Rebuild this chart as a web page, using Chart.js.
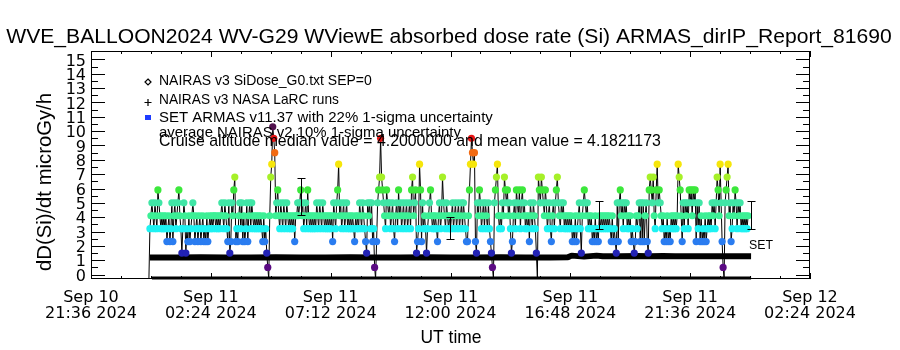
<!DOCTYPE html>
<html>
<head>
<meta charset="utf-8">
<title>WVE_BALLOON2024 WV-G29 absorbed dose rate</title>
<script src="https://cdn.jsdelivr.net/npm/chart.js@4.4.1/dist/chart.umd.min.js"></script>
<style>
  html, body { margin: 0; padding: 0; background: #fff; }
  #doseChart { display: block; }
</style>
</head>
<body>
<canvas id="doseChart" width="900" height="350"></canvas>
<script>
/* ==========================================================================
   DATA  (time = hours since 2024-09-10 00:00 UT)
   ========================================================================== */
const xTickHours = [21.6, 26.4, 31.2, 36.0, 40.8, 45.6, 50.4];
const yTickValues = [0, 1, 2, 3, 4, 5, 6, 7, 8, 9, 10, 11, 12, 13, 14, 15];

// quantised ARMAS dose-rate levels and the colour used for each
const doseLevels = [0.55, 1.45, 2.33, 3.22, 4.10, 4.99, 5.88, 6.75, 7.65, 8.53, 9.45, 10.3];
const levelColors = ['#5a0a82', '#2222b4', '#2a7cf0', '#1ef2f2', '#3cf096', '#40e6a6',
                     '#3ce83c', '#a6f028', '#f6e60a', '#f26a12', '#e61414', '#52124e'];

// SET ARMAS samples, one every 0.04 h (2.4 min) from armasStart
const armasStart = 23.92;
const armasStep = 0.04;
const armasDose = [
  -0.3,
  3.2,4.1,5,4.1,3.2,5,4.1,3.2,5.9,5,4.1,3.2,4.1,3.2,4.1,3.2,4.1,2.3,3.2,4.1,
  2.3,3.2,5,2.3,4.1,5,3.2,4.1,5,5.9,4.1,3.2,1.5,3.2,5,4.1,1.5,3.2,2.3,4.1,
  2.3,3.2,4.1,5,4.1,2.3,3.2,4.1,2.3,3.2,4.1,2.3,3.2,4.1,2.3,3.2,2.3,4.1,2.3,3.2,
  4.1,3.2,4.1,3.2,4.1,4.1,3.2,4.1,3.2,4.1,3.2,4.1,5,4.1,3.2,5,4.1,3.2,2.3,5,
  1.5,2.3,5,4.1,5.9,6.8,2.3,3.2,2.3,4.1,5,3.2,5,2.3,4.1,2.3,3.2,5,2.3,4.1,
  5,3.2,5,4.1,3.2,4.1,3.2,4.1,3.2,4.1,3.2,4.1,3.2,2.3,4.1,2.3,3.2,1.5,0.5,-0.3,
  4.1,6.8,7.7,10.3,9.5,8.5,4.1,5,5.9,4.1,3.2,5,4.1,3.2,5,4.1,3.2,5,4.1,3.2,
  4.1,3.2,4.1,3.2,4.1,2.3,4.1,4.1,5,4.1,5,5.9,4.1,5,3.2,4.1,5,3.2,5.9,4.1,
  3.2,4.1,3.2,4.1,3.2,4.1,3.2,5,4.1,3.2,5,4.1,3.2,5,4.1,3.2,4.1,3.2,4.1,3.2,
  4.1,3.2,4.1,2.3,5,4.1,3.2,5,5.9,7.7,4.1,5,3.2,4.1,5,3.2,4.1,5,3.2,4.1,
  3.2,4.1,3.2,4.1,3.2,2.3,4.1,3.2,4.1,3.2,5,4.1,3.2,5,4.1,3.2,2.3,1.5,5,4.1,
  5,3.2,5,2.3,3.2,0.5,-0.3,2.3,5,5.9,6.8,9.5,6.8,5.9,5,4.1,3.2,5.9,5,4.1,
  5,3.2,4.1,5,3.2,2.3,4.1,5,3.2,5.9,4.1,5,3.2,4.1,5,3.2,4.1,5,3.2,4.1,
  5,3.2,5.9,6.8,4.1,5,5.9,1.5,2.3,3.2,7.7,5.9,2.3,5,3.2,4.1,3.2,1.5,3.2,4.1,
  5,5.9,4.1,3.2,4.1,3.2,4.1,3.2,2.3,4.1,5,3.2,4.1,6.8,5,4.1,3.2,5,4.1,3.2,
  4.1,3.2,4.1,5,3.2,4.1,5,3.2,4.1,5,3.2,4.1,5,3.2,5,4.1,3.2,2.3,2.3,4.1,
  5.9,7.7,9.5,8.5,7.7,8.5,2.3,1.5,5,4.1,5.9,5,3.2,4.1,5,3.2,5,4.1,3.2,5,
  3.2,2.3,1.5,0.5,-0.3,5,5.9,6.8,7.7,4.1,3.2,4.1,3.2,5,4.1,6.8,5.9,5,5.9,4.1,
  5,3.2,1.5,2.3,4.1,5,3.2,5.9,5,4.1,5.9,3.2,5,5.9,4.1,5,3.2,4.1,3.2,4.1,
  2.3,5,4.1,3.2,5,4.1,3.2,1.5,-0.3,6.8,5.9,5,6.8,5.9,5,4.1,5.9,5,3.2,4.1,
  5,3.2,2.3,4.1,5,3.2,5,5.9,6.8,5,4.1,3.2,5,4.1,5,3.2,4.1,3.2,4.1,3.2,
  4.1,3.2,4.1,2.3,3.2,2.3,4.1,2.3,3.2,4.1,5,3.2,1.5,4.1,5,5.9,5,4.1,5,3.2,
  4.1,3.2,4.1,2.3,3.2,2.3,4.1,2.3,3.2,2.3,4.1,3.2,4.1,3.2,4.1,3.2,4.1,3.2,4.1,3.2,
  4.1,3.2,2.3,4.1,2.3,3.2,2.3,1.5,5,2.3,5,5.9,4.1,5,3.2,5,4.1,5,3.2,4.1,
  3.2,4.1,2.3,3.2,2.3,1.5,2.3,4.1,3.2,4.1,5,2.3,5,2.3,5,2.3,4.1,5,2.3,1.5,
  5.9,6.8,5.9,5,6.8,4.1,3.2,5.9,7.7,5,5.9,5,4.1,3.2,4.1,2.3,3.2,2.3,4.1,2.3,
  3.2,2.3,4.1,3.2,4.1,3.2,4.1,3.2,4.1,7.7,6.8,5.9,4.1,2.3,5,3.2,5,4.1,5,3.2,
  5.9,5,5.9,4.1,5.9,5,5.9,2.3,5,3.2,5,2.3,4.1,2.3,3.2,2.3,4.1,2.3,3.2,4.1,
  3.2,4.1,3.2,5,4.1,5,3.2,5,6.8,5.9,4.1,7.7,5,2.3,0.5,-0.3,5,5.9,6.8,7.7,
  4.1,5,2.3,3.2,5,4.1,5.9,5,3.2,5,4.1,5,3.2,4.1,3.2,4.1,3.2,4.1,3.2,4.1
];

// NAIRAS v3 NASA LaRC runs (thick band)
const nairasTime = [23.96, 25.0, 26.0, 27.0, 28.0, 29.0, 30.0, 31.0, 32.0, 33.0, 34.0, 35.0,
                    36.0, 37.0, 38.0, 39.0, 40.0, 40.7, 40.85, 41.35, 41.85, 42.1, 42.8, 43.5,
                    44.0, 44.5, 45.0, 46.0, 47.0, 48.04];
const nairasDose = [1.19, 1.19, 1.2, 1.19, 1.19, 1.2, 1.19, 1.19, 1.2, 1.19, 1.19, 1.2,
                    1.19, 1.19, 1.2, 1.19, 1.19, 1.2, 1.32, 1.25, 1.32, 1.27, 1.28, 1.3,
                    1.27, 1.3, 1.28, 1.27, 1.28, 1.27];

// NAIRAS v3 SiDose_G0 SEP=0 trace along the floor
const siDoseTime = [24.04, 48.04];
const siDoseValue = [-0.24, -0.24];

// 1-sigma uncertainty bars
const errTime = [30.0, 35.96, 41.96, 48.04];
const errLow = [4.15, 2.48, 3.18, 3.18];
const errHigh = [6.73, 4.01, 5.13, 5.13];

const legendLines = [
    'NAIRAS v3 SiDose_G0.txt SEP=0',
    'NAIRAS v3 NASA LaRC runs',
    'SET ARMAS v11.37 with 22% 1-sigma uncertainty',
    'average NAIRAS v2 10% 1-sigma uncertainty',
    'Cruise altitude median value = 4.2000000 and mean value = 4.1821173'
];

/* ==========================================================================
   HELPERS
   ========================================================================== */
const TEXT_FONT = "'Liberation Sans Narrow', 'Liberation Sans', 'DejaVu Sans', sans-serif";

function levelColor(v) {
    let best = 0;
    doseLevels.forEach((lv, i) => {
        if (Math.abs(lv - v) < Math.abs(doseLevels[best] - v)) best = i;
    });
    return levelColors[best];
}

function formatUT(h) {
    const totalMin = Math.round(h * 60);
    const day = 10 + Math.floor(totalMin / 1440);
    const mins = totalMin % 1440;
    const hh = String(Math.floor(mins / 60)).padStart(2, '0');
    const mm = String(mins % 60).padStart(2, '0');
    return ['Sep ' + day, hh + ':' + mm + ' 2024'];
}

// draw text so that it spans a given width
function fitText(ctx, text, x, y, width, align) {
    ctx.font = '100px ' + TEXT_FONT;
    const size = 100 * width / ctx.measureText(text).width;
    ctx.font = size.toFixed(2) + 'px ' + TEXT_FONT;
    ctx.textAlign = align || 'left';
    ctx.textBaseline = 'middle';
    ctx.fillText(text, x, y);
}

/* ==========================================================================
   IDL-STYLE DECORATIONS (box, inward ticks, error bars, text)
   ========================================================================== */
const idlDecor = {
    id: 'idlDecor',
    afterDatasetsDraw(chart) {
        const { ctx } = chart;
        const xs = chart.scales.x, ys = chart.scales.y;
        ctx.save();
        ctx.strokeStyle = '#000';
        ctx.lineWidth = 1;
        errTime.forEach((t, i) => {
            const px = Math.round(xs.getPixelForValue(t)) + 0.5;
            const lo = Math.round(ys.getPixelForValue(errLow[i])) + 0.5;
            const hi = Math.round(ys.getPixelForValue(errHigh[i])) + 0.5;
            ctx.beginPath();
            ctx.moveTo(px, lo); ctx.lineTo(px, hi);
            ctx.moveTo(px - 4, lo); ctx.lineTo(px + 4, lo);
            ctx.moveTo(px - 4, hi); ctx.lineTo(px + 4, hi);
            ctx.stroke();
        });
        ctx.restore();
    },
    afterDraw(chart) {
        const { ctx, chartArea: a } = chart;
        const xs = chart.scales.x, ys = chart.scales.y;
        ctx.save();
        ctx.strokeStyle = '#000';
        ctx.fillStyle = '#000';
        ctx.lineWidth = 1;

        // plot box
        ctx.strokeRect(a.left + 0.5, a.top + 0.5, a.right - a.left - 1, a.bottom - a.top - 1);

        // y ticks (inward, both sides)
        ctx.beginPath();
        for (let v = 0; v <= 15; v += 0.5) {
            const py = Math.round(ys.getPixelForValue(v)) + 0.5;
            const len = Number.isInteger(v) ? 14 : 7;
            ctx.moveTo(a.left, py); ctx.lineTo(a.left + len, py);
            ctx.moveTo(a.right, py); ctx.lineTo(a.right - len, py);
        }
        // x ticks (inward, top and bottom)
        for (let h = xTickHours[0]; h <= xTickHours[xTickHours.length - 1] + 0.01; h += 1.2) {
            const px = Math.round(xs.getPixelForValue(h)) + 0.5;
            const major = xTickHours.some(t => Math.abs(t - h) < 0.01);
            const len = major ? 6 : 3;
            ctx.moveTo(px, a.bottom); ctx.lineTo(px, a.bottom - len);
            ctx.moveTo(px, a.top); ctx.lineTo(px, a.top + len);
        }
        ctx.stroke();

        // title and axis titles
        fitText(ctx, 'WVE_BALLOON2024 WV-G29 WViewE absorbed dose rate (Si) ARMAS_dirIP_Report_81690',
            449, 37, 886, 'center');
        fitText(ctx, 'UT time', 451, 338, 61, 'center');
        ctx.save();
        ctx.translate(45, 182);
        ctx.rotate(-Math.PI / 2);
        fitText(ctx, 'dD(Si)/dt microGy/h', 0, 0, 178, 'center');
        ctx.restore();

        // legend
        const legendX = 159;
        const legendY = [81, 100, 118, 133, 141.5];
        const legendW = [213, 180, 334, 302, 502];
        legendLines.forEach((txt, i) => fitText(ctx, txt, legendX, legendY[i], legendW[i]));

        // legend symbols: diamond, plus, filled square
        ctx.lineWidth = 1.2;
        ctx.beginPath();
        ctx.moveTo(148, 79); ctx.lineTo(151, 82); ctx.lineTo(148, 85); ctx.lineTo(145, 82); ctx.closePath();
        ctx.stroke();
        ctx.beginPath();
        ctx.moveTo(144.5, 102.5); ctx.lineTo(151.5, 102.5);
        ctx.moveTo(148, 99); ctx.lineTo(148, 106);
        ctx.stroke();
        ctx.fillStyle = '#1e3cff';
        ctx.fillRect(145, 115, 6, 5);

        // series label at the end of the trace
        ctx.fillStyle = '#000';
        fitText(ctx, 'SET', xs.getPixelForValue(47.96), ys.getPixelForValue(2.05), 24);
        ctx.restore();
    }
};

/* ==========================================================================
   CHART
   ========================================================================== */
const armasPoints = armasDose.map((v, i) => ({ x: armasStart + i * armasStep, y: v }));
const nairasPoints = nairasTime.map((t, i) => ({ x: t, y: nairasDose[i] }));
const siDosePoints = siDoseTime.map((t, i) => ({ x: t, y: siDoseValue[i] }));

new Chart(document.getElementById('doseChart').getContext('2d'), {
    type: 'line',
    data: {
        datasets: [
            {
                label: 'SET ARMAS v11.37',
                data: armasPoints,
                borderColor: '#000',
                borderWidth: 1,
                tension: 0,
                pointRadius: armasDose.map(v => (v < 0 ? 0 : 3.6)),
                pointBackgroundColor: armasDose.map(levelColor),
                pointBorderWidth: 0,
                pointHoverRadius: 0
            },
            {
                label: 'NAIRAS v3 NASA LaRC runs',
                data: nairasPoints,
                borderColor: '#000',
                borderWidth: 6,
                borderJoinStyle: 'bevel',
                pointRadius: 0
            },
            {
                label: 'NAIRAS v3 SiDose_G0.txt SEP=0',
                data: siDosePoints,
                borderColor: '#000',
                backgroundColor: '#000',
                borderWidth: 3,
                pointRadius: 0,
                clip: false
            }
        ]
    },
    options: {
        responsive: false,
        devicePixelRatio: 1,
        animation: false,
        events: [],
        layout: { padding: { top: 51, right: 90, bottom: 0, left: 0 } },
        plugins: { legend: { display: false }, tooltip: { enabled: false } },
        scales: {
            x: {
                type: 'linear',
                min: 21.6,
                max: 50.4,
                afterBuildTicks: s => { s.ticks = xTickHours.map(v => ({ value: v })); },
                afterFit: s => { s.height = 71; },
                grid: { display: false, drawTicks: false },
                border: { display: false },
                ticks: {
                    color: '#000',
                    font: { family: 'DejaVu Sans', size: 16, lineHeight: 1.0 },
                    padding: 11,
                    maxRotation: 0,
                    autoSkip: false,
                    callback: v => formatUT(v)
                }
            },
            y: {
                min: -0.31,
                max: 15.59,
                afterBuildTicks: s => { s.ticks = yTickValues.map(v => ({ value: v })); },
                afterFit: s => { s.width = 91; },
                grid: { display: false, drawTicks: false },
                border: { display: false },
                ticks: {
                    color: '#000',
                    font: { family: 'DejaVu Sans', size: 16 },
                    padding: 5,
                    labelOffset: 2,
                    autoSkip: false
                }
            }
        }
    },
    plugins: [idlDecor]
});
</script>
</body>
</html>
